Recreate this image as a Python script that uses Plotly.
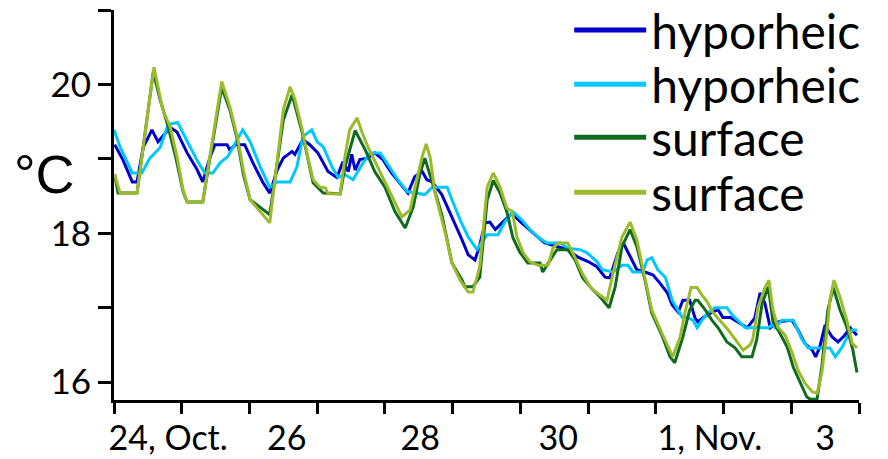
import plotly.graph_objects as go

# time in days since 24 Oct 00:00, temperature in °C
hyp1_day = [0.01,0.13,0.27,0.34,0.43,0.56,0.65,0.83,0.93,1.08,1.23,1.31,1.42,1.49,1.67,1.71,1.79,1.93,2.05,2.20,2.30,2.41,2.50,2.63,2.67,2.79,2.89,3.01,3.16,3.29,3.38,3.46,3.51,3.56,3.63,3.74,3.85,3.97,4.10,4.25,4.34,4.44,4.55,4.62,4.70,4.84,4.99,5.14,5.23,5.33,5.40,5.48,5.55,5.63,5.74,5.88,5.97,6.10,6.22,6.36,6.56,6.70,6.85,7.00,7.13,7.25,7.32,7.44,7.52,7.62,7.72,7.87,7.96,8.06,8.17,8.24,8.33,8.40,8.50,8.58,8.62,8.70,8.83,8.92,8.99,9.10,9.21,9.35,9.46,9.54,9.61,9.69,9.80,10.01,10.10,10.20,10.31,10.36,10.42,10.50,10.54,10.60,10.69,10.79,10.87,10.97]
hyp1_temp = [19.19,18.99,18.69,18.69,19.15,19.39,19.23,19.42,19.36,19.08,18.85,18.69,19.03,19.19,19.19,19.12,19.19,19.19,18.95,18.68,18.54,18.85,19.01,19.10,19.06,19.26,19.19,19.08,18.83,18.75,18.96,18.83,19.06,18.85,18.99,19.01,19.08,18.99,18.81,18.65,18.54,18.76,18.83,18.72,18.69,18.52,18.22,17.91,17.71,17.64,17.84,18.14,18.15,18.05,18.15,18.27,18.18,18.07,17.98,17.87,17.82,17.78,17.68,17.62,17.55,17.41,17.40,17.74,17.87,17.68,17.51,17.47,17.44,17.33,17.20,17.04,16.94,17.10,17.10,16.86,16.81,16.87,16.94,16.97,16.87,16.87,16.81,16.73,16.86,17.20,17.06,16.73,16.81,16.83,16.70,16.52,16.43,16.34,16.47,16.77,16.70,16.61,16.54,16.63,16.73,16.63]

hyp2_day = [0.00,0.09,0.27,0.41,0.53,0.68,0.80,0.94,1.09,1.24,1.34,1.46,1.57,1.68,1.82,1.90,2.01,2.16,2.30,2.41,2.60,2.70,2.79,2.92,3.00,3.09,3.22,3.31,3.41,3.53,3.66,3.78,3.93,4.05,4.19,4.33,4.59,4.70,4.92,4.99,5.11,5.23,5.36,5.43,5.51,5.67,5.77,5.89,6.02,6.14,6.26,6.39,6.59,6.70,6.88,6.98,7.13,7.21,7.37,7.50,7.59,7.66,7.81,7.87,7.94,8.03,8.14,8.24,8.39,8.47,8.55,8.61,8.68,8.77,8.87,9.05,9.13,9.21,9.32,9.66,9.72,9.76,9.86,10.03,10.16,10.25,10.57,10.65,10.75,10.84,10.90,10.97]
hyp2_temp = [19.39,19.16,18.81,18.81,19.01,19.15,19.46,19.49,19.22,18.96,18.81,18.81,18.95,19.03,19.26,19.39,19.23,18.89,18.62,18.69,18.69,18.89,19.30,19.39,19.23,19.16,18.89,18.75,18.79,18.72,18.92,19.08,19.08,18.92,18.72,18.56,18.52,18.62,18.62,18.45,18.18,17.95,17.78,17.88,17.98,17.98,18.15,18.29,18.18,18.05,17.95,17.87,17.87,17.80,17.78,17.74,17.62,17.51,17.48,17.57,17.57,17.48,17.48,17.64,17.67,17.51,17.41,17.10,16.87,16.87,16.83,16.73,16.83,16.93,17.00,17.00,16.90,16.83,16.73,16.73,16.77,16.73,16.83,16.83,16.57,16.46,16.46,16.34,16.47,16.63,16.70,16.70]

surf1_day = [0.01,0.06,0.34,0.58,0.68,0.80,0.92,1.02,1.08,1.31,1.59,1.71,1.82,1.91,2.01,2.11,2.20,2.30,2.50,2.63,2.78,2.94,3.09,3.34,3.41,3.56,3.71,3.85,4.00,4.15,4.30,4.42,4.52,4.59,4.70,4.84,4.99,5.14,5.18,5.30,5.40,5.51,5.60,5.70,5.80,5.89,5.99,6.11,6.29,6.33,6.44,6.54,6.70,6.81,6.92,7.07,7.18,7.31,7.40,7.50,7.62,7.72,7.84,7.94,8.09,8.21,8.28,8.40,8.50,8.58,8.62,8.73,8.83,8.92,9.05,9.17,9.27,9.42,9.49,9.57,9.66,9.73,9.83,9.94,10.03,10.13,10.23,10.28,10.38,10.45,10.54,10.62,10.72,10.82,10.91,10.97]
surf1_temp = [18.79,18.54,18.54,20.17,19.80,19.43,18.99,18.56,18.42,18.42,19.96,19.66,19.26,18.79,18.45,18.38,18.31,18.25,19.52,19.86,19.35,18.68,18.54,18.53,18.89,19.38,19.12,18.83,18.62,18.29,18.07,18.36,18.81,19.01,18.68,18.25,17.60,17.37,17.28,17.28,17.41,18.45,18.71,18.54,18.29,17.94,17.75,17.60,17.60,17.48,17.64,17.78,17.78,17.64,17.40,17.24,17.14,17.00,17.28,17.82,18.05,17.82,17.37,16.93,16.63,16.34,16.26,16.61,16.97,17.10,17.10,16.97,16.83,16.73,16.54,16.46,16.34,16.34,16.57,17.06,17.28,16.81,16.66,16.47,16.20,15.99,15.80,15.77,15.77,16.20,16.97,17.27,16.97,16.74,16.43,16.13]

surf2_day = [0.01,0.09,0.34,0.59,0.72,0.83,0.93,1.02,1.08,1.31,1.59,1.71,1.82,1.91,2.01,2.11,2.20,2.30,2.50,2.60,2.67,2.78,2.86,2.94,3.04,3.12,3.16,3.34,3.41,3.48,3.59,3.66,3.75,3.88,4.03,4.15,4.25,4.37,4.47,4.55,4.61,4.67,4.74,4.81,4.89,4.99,5.11,5.23,5.30,5.40,5.51,5.60,5.70,5.80,5.88,5.95,6.04,6.14,6.26,6.41,6.48,6.56,6.70,6.81,6.91,7.03,7.13,7.28,7.37,7.50,7.62,7.72,7.84,7.94,8.09,8.25,8.36,8.43,8.52,8.61,8.68,8.76,8.84,8.95,9.07,9.20,9.29,9.39,9.43,9.51,9.61,9.67,9.73,9.80,9.91,10.01,10.10,10.20,10.31,10.38,10.45,10.53,10.57,10.63,10.72,10.82,10.90,10.97]
surf2_temp = [18.79,18.54,18.54,20.23,19.66,19.43,19.03,18.58,18.42,18.42,20.04,19.70,19.30,18.85,18.45,18.34,18.25,18.14,19.66,19.97,19.80,19.39,19.03,18.72,18.62,18.61,18.53,18.53,19.03,19.39,19.55,19.36,19.16,18.92,18.65,18.41,18.22,18.31,18.72,19.03,19.20,19.01,18.54,18.31,18.01,17.60,17.37,17.21,17.21,17.55,18.62,18.81,18.62,18.34,18.29,17.95,17.74,17.62,17.57,17.57,17.80,17.87,17.87,17.67,17.47,17.28,17.20,17.10,17.47,17.95,18.15,17.91,17.41,16.97,16.66,16.34,16.61,16.93,17.27,17.27,17.17,17.08,16.94,16.83,16.70,16.54,16.43,16.50,16.57,17.01,17.27,17.37,16.97,16.74,16.63,16.40,16.16,15.99,15.87,15.85,16.12,16.70,17.10,17.37,17.14,16.83,16.52,16.46]

series_names = ["hyporheic", "hyporheic", "surface", "surface"]
series_colors = ["#0000CD", "#00C8FF", "#116B1E", "#9CBB2C"]

x_label_pos = [0.8, 2.55, 4.52, 6.56, 8.8, 10.5]
x_labels = ["24, Oct.", "26", "28", "30", "1, Nov.", "3"]
x_tick_days = list(range(0, 12))
y_labels = [16, 18, 20]
y_minor = [17, 19, 21]

font_main = "Lato"
fig = go.Figure()
all_days = [hyp1_day, hyp2_day, surf1_day, surf2_day]
all_temps = [hyp1_temp, hyp2_temp, surf1_temp, surf2_temp]
for d, t, n, c in zip(all_days, all_temps, series_names, series_colors):
    fig.add_trace(go.Scatter(x=d, y=t, name=n, mode="lines", showlegend=False,
                             line=dict(color=c, width=3)))

# legend entries: one legend per row so row spacing can match
legend_keys = ["legend", "legend2", "legend3", "legend4"]
legend_rows_y = [0.948, 0.809, 0.673, 0.532]
legend_layout = {}
for i, (n, c) in enumerate(zip(series_names, series_colors)):
    fig.add_trace(go.Scatter(x=[None], y=[None], name=n, mode="lines",
                             legend=legend_keys[i], showlegend=True,
                             line=dict(color=c, width=5)))
    legend_layout[legend_keys[i]] = dict(
        x=0.611, y=legend_rows_y[i], xanchor="left", yanchor="middle",
        font=dict(family=font_main, size=48, color="black"),
        itemwidth=72, bgcolor="rgba(0,0,0,0)", borderwidth=0)

fig.update_layout(
    width=888, height=459,
    margin=dict(l=114, r=29, t=10, b=59, autoexpand=False),
    plot_bgcolor="white", paper_bgcolor="white",
    showlegend=True,
    xaxis=dict(range=[0, 11], showgrid=False, zeroline=False,
               showline=True, linecolor="black", linewidth=3,
               tickmode="array", tickvals=x_label_pos, ticktext=x_labels,
               ticks="", ticklabelstandoff=6,
               tickfont=dict(family=font_main, size=34, color="black"),
               minor=dict(tickvals=x_tick_days, ticks="outside", ticklen=11,
                          tickwidth=3, tickcolor="black", showgrid=False)),
    yaxis=dict(range=[15.76, 21.0], showgrid=False, zeroline=False,
               showline=True, linecolor="black", linewidth=3,
               tickmode="array", tickvals=y_labels,
               ticktext=[str(v) for v in y_labels],
               ticks="outside", ticklen=13, tickwidth=3, tickcolor="black",
               tickfont=dict(family=font_main, size=35, color="black"),
               minor=dict(tickvals=y_minor, ticks="outside", ticklen=13,
                          tickwidth=3, tickcolor="black", showgrid=False)),
    **legend_layout,
)
fig.add_annotation(text="°C", xref="paper", yref="paper",
                   x=-0.0927, y=0.579, xanchor="center", yanchor="middle",
                   showarrow=False,
                   font=dict(family="Liberation Sans", size=54, color="black"))

fig.write_html("out.html", config={"displayModeBar": False},
               post_script="document.body.style.margin='0';")
